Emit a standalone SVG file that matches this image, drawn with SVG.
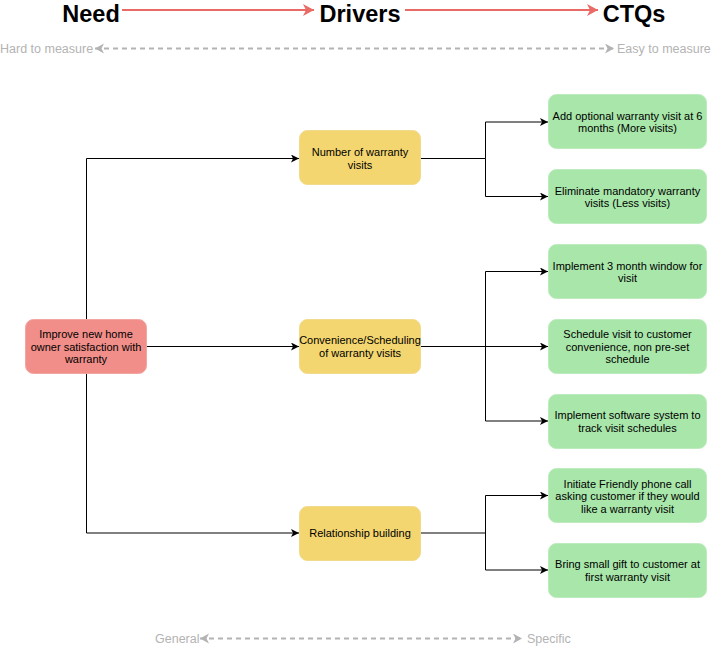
<svg xmlns="http://www.w3.org/2000/svg" width="712" height="647" viewBox="0 0 712 647">
<defs>
<style>
text{font-family:"Liberation Sans",Arial,sans-serif;}
.hdr{font-size:23.5px;font-weight:bold;fill:#000;text-anchor:middle;}
.gry{font-size:12.5px;fill:#B3B3B3;}
.lbl{font-size:11px;fill:#000;text-anchor:middle;}
.need{fill:#F18E89;stroke:#F3A5A1;stroke-width:1;}
.drv{fill:#F3D670;stroke:#F0DA8C;stroke-width:1;}
.ctq{fill:#A8E6A9;stroke:#BDEBBE;stroke-width:1;}
.con{fill:none;stroke:#000;stroke-width:1;}
.redarrow{fill:none;stroke:#EA6B66;stroke-width:2;}
.dash{fill:none;stroke:#B3B3B3;stroke-width:2;stroke-dasharray:5 4;}
</style>
<marker id="arr" markerUnits="userSpaceOnUse" markerWidth="10" markerHeight="10" refX="8" refY="4" orient="auto">
<path d="M0,0 L8,4 L0,8 L2,4 z" fill="#000"/>
</marker>
<marker id="redarr" markerUnits="userSpaceOnUse" markerWidth="14" markerHeight="14" refX="11" refY="6" orient="auto">
<path d="M0,0 L11,6 L0,12 L3,6 z" fill="#EA6B66"/>
</marker>
<marker id="gryarr" markerUnits="userSpaceOnUse" markerWidth="12" markerHeight="12" refX="9" refY="5" orient="auto-start-reverse">
<path d="M0,0 L9,5 L0,10 L2.5,5 z" fill="#B3B3B3"/>
</marker>
</defs>
<rect width="712" height="647" fill="#fff"/>

<g id="header">
<text class="hdr" x="91" y="21.5">Need</text>
<text class="hdr" x="360" y="21.5">Drivers</text>
<text class="hdr" x="634" y="21.5">CTQs</text>
<path class="redarrow" d="M122,10 H314" marker-end="url(#redarr)"/>
<path class="redarrow" d="M405,10 H598" marker-end="url(#redarr)"/>
</g>

<g id="measure-scale">
<text class="gry" x="0" y="53">Hard to measure</text>
<text class="gry" x="617" y="53">Easy to measure</text>
<path class="dash" d="M95,48.5 H614" marker-start="url(#gryarr)" marker-end="url(#gryarr)"/>
</g>

<g id="general-scale">
<text class="gry" x="155" y="643">General</text>
<text class="gry" x="527" y="643">Specific</text>
<path class="dash" d="M200,638.5 H522" marker-start="url(#gryarr)" marker-end="url(#gryarr)"/>
</g>

<g id="connectors">
<path class="con" d="M86.5,319 V158.5 H299" marker-end="url(#arr)"/>
<path class="con" d="M147,346.5 H299" marker-end="url(#arr)"/>
<path class="con" d="M86.5,373 V533 H299" marker-end="url(#arr)"/>
<path class="con" d="M421,158.5 H485.5 V122 H548" marker-end="url(#arr)"/>
<path class="con" d="M485.5,158.5 V196.5 H548" marker-end="url(#arr)"/>
<path class="con" d="M421,346.5 H548" marker-end="url(#arr)"/>
<path class="con" d="M485.5,346.5 V271.5 H548" marker-end="url(#arr)"/>
<path class="con" d="M485.5,346.5 V421 H548" marker-end="url(#arr)"/>
<path class="con" d="M421,533 H485.5 V495.5 H548" marker-end="url(#arr)"/>
<path class="con" d="M485.5,533 V570 H548" marker-end="url(#arr)"/>
</g>

<g id="need">
<rect class="need" x="25.5" y="319.5" width="121" height="54" rx="8"/>
<text class="lbl" x="86" y="338">Improve new home</text>
<text class="lbl" x="86" y="350.5">owner satisfaction with</text>
<text class="lbl" x="86" y="363">warranty</text>
</g>

<g id="driver-visits">
<rect class="drv" x="299.5" y="130.5" width="121" height="54" rx="8"/>
<text class="lbl" x="360" y="156">Number of warranty</text>
<text class="lbl" x="360" y="168.5">visits</text>
</g>
<g id="driver-convenience">
<rect class="drv" x="299.5" y="319.5" width="121" height="54" rx="8"/>
<text class="lbl" x="360" y="344">Convenience/Scheduling</text>
<text class="lbl" x="360" y="356.5">of warranty visits</text>
</g>
<g id="driver-relationship">
<rect class="drv" x="299.5" y="506.5" width="121" height="54" rx="8"/>
<text class="lbl" x="360" y="537">Relationship building</text>
</g>

<g id="ctq-1">
<rect class="ctq" x="548.5" y="94.5" width="158" height="54" rx="8"/>
<text class="lbl" x="627.5" y="119.5">Add optional warranty visit at 6</text>
<text class="lbl" x="627.5" y="132">months (More visits)</text>
</g>
<g id="ctq-2">
<rect class="ctq" x="548.5" y="169.5" width="158" height="54" rx="8"/>
<text class="lbl" x="627.5" y="194.5">Eliminate mandatory warranty</text>
<text class="lbl" x="627.5" y="207">visits (Less visits)</text>
</g>
<g id="ctq-3">
<rect class="ctq" x="548.5" y="244.5" width="158" height="54" rx="8"/>
<text class="lbl" x="627.5" y="269.5">Implement 3 month window for</text>
<text class="lbl" x="627.5" y="282">visit</text>
</g>
<g id="ctq-4">
<rect class="ctq" x="548.5" y="319.5" width="158" height="54" rx="8"/>
<text class="lbl" x="627.5" y="338">Schedule visit to customer</text>
<text class="lbl" x="627.5" y="350.5">convenience, non pre-set</text>
<text class="lbl" x="627.5" y="363">schedule</text>
</g>
<g id="ctq-5">
<rect class="ctq" x="548.5" y="394.5" width="158" height="54" rx="8"/>
<text class="lbl" x="627.5" y="419">Implement software system to</text>
<text class="lbl" x="627.5" y="431.5">track visit schedules</text>
</g>
<g id="ctq-6">
<rect class="ctq" x="548.5" y="468.5" width="158" height="54" rx="8"/>
<text class="lbl" x="627.5" y="487.5">Initiate Friendly phone call</text>
<text class="lbl" x="627.5" y="500">asking customer if they would</text>
<text class="lbl" x="627.5" y="512.5">like a warranty visit</text>
</g>
<g id="ctq-7">
<rect class="ctq" x="548.5" y="543.5" width="158" height="54" rx="8"/>
<text class="lbl" x="627.5" y="568">Bring small gift to customer at</text>
<text class="lbl" x="627.5" y="580.5">first warranty visit</text>
</g>
</svg>
